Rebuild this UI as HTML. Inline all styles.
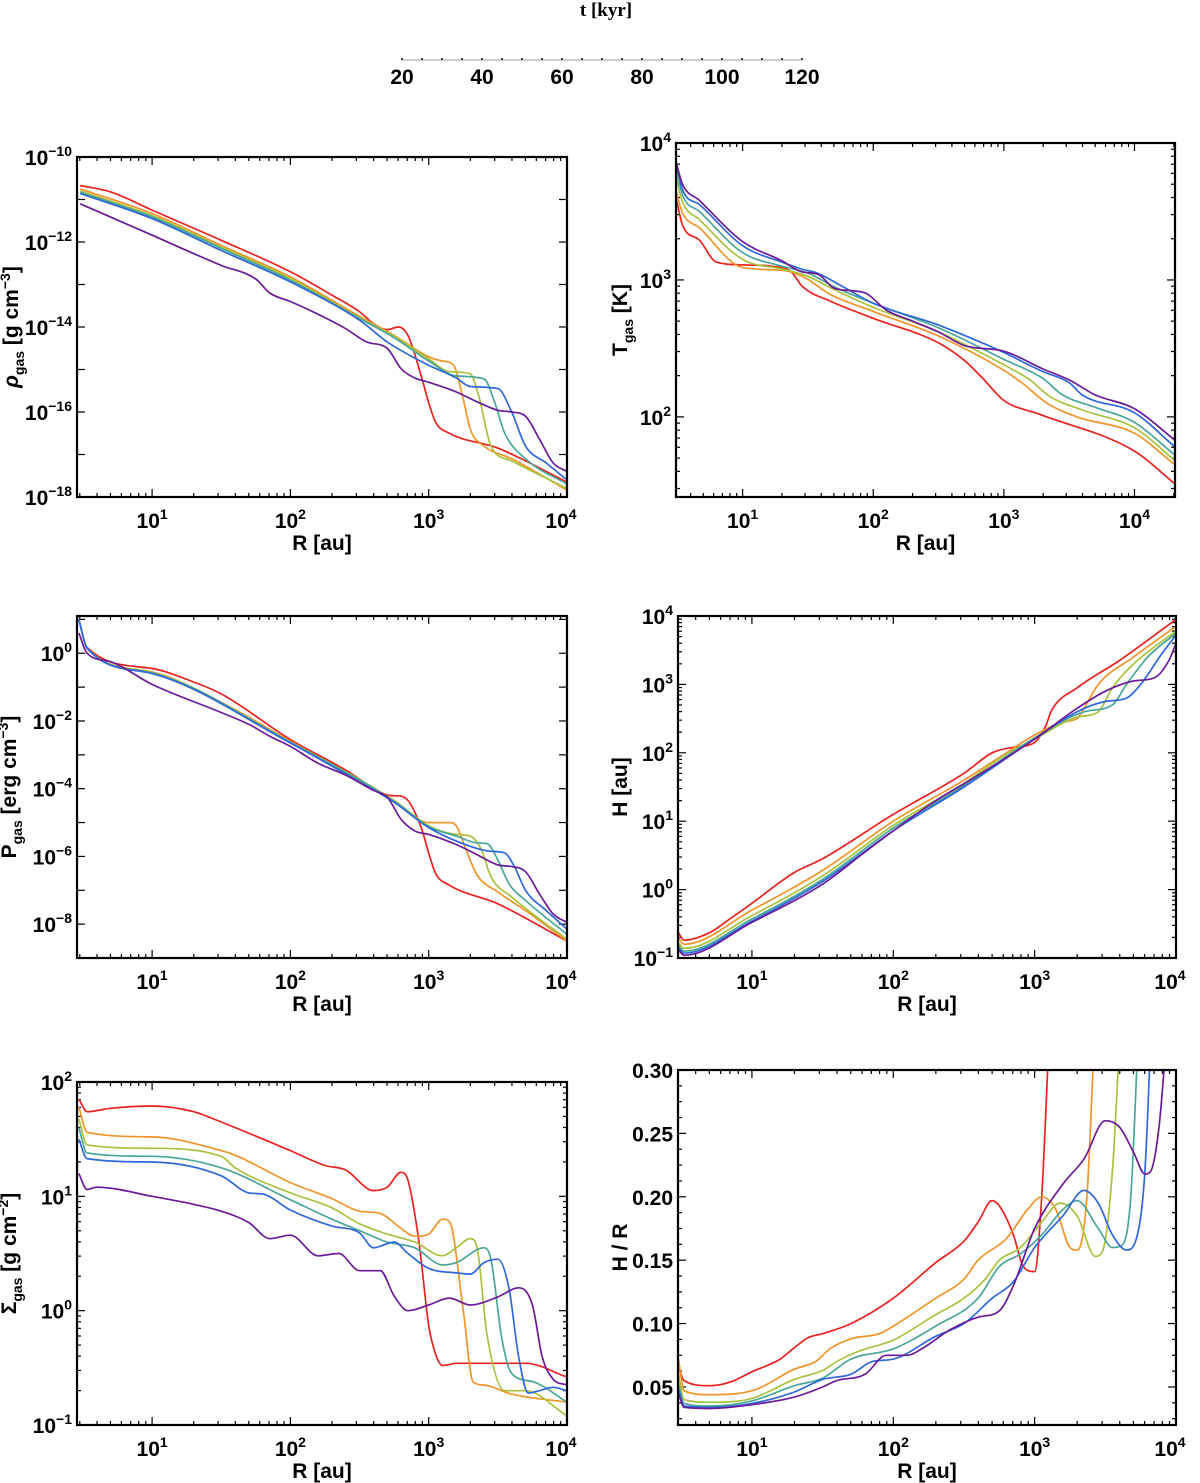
<!DOCTYPE html>
<html><head><meta charset="utf-8"><style>
body{margin:0;background:#fff}
svg{display:block}
text{font-family:"Liberation Sans",sans-serif;font-weight:bold;fill:#000}
</style></head><body>
<svg id="fig" width="1200" height="1483" viewBox="0 0 1200 1483" xmlns="http://www.w3.org/2000/svg">
<g id="cbar">
<text x="606" y="16" text-anchor="middle" style="font-family:'Liberation Serif',serif;font-size:19px">t [kyr]</text>
</g>
</svg>
<script>
const COLORS=['#e8221f','#f0952a','#a9c23d','#4ba69a','#2f68d9','#6c1b98'];
const TIMES=[20,40,60,80,100,120];
const CBAR_TICKS=[20,40,60,80,100,120];

const rho20=[[0.48,-10.67],[0.7,-10.82],[1.0,-11.25],[1.5,-11.96],[2.0,-12.7],[2.3,-13.25],[2.5,-13.64],[2.6,-13.92],[2.7,-14.06],[2.78,-14.0],[2.85,-14.2],[2.95,-15.2],[3.0,-15.78],[3.05,-16.24],[3.15,-16.5],[3.5,-16.85],[4.0,-17.65]];
const rho40=[[0.48,-10.75],[1.0,-11.33],[1.5,-12.08],[2.0,-12.82],[2.5,-13.75],[2.75,-14.2],[3.0,-14.7],[3.1,-14.8],[3.18,-14.9],[3.25,-15.7],[3.3,-16.4],[3.4,-16.8],[3.6,-17.1],[4.0,-17.84]];
const rho60=[[0.48,-10.8],[1.0,-11.38],[1.5,-12.12],[2.0,-12.86],[2.5,-13.78],[2.75,-14.22],[3.0,-14.75],[3.15,-15.05],[3.3,-15.1],[3.36,-15.6],[3.45,-16.8],[3.6,-17.15],[4.0,-17.8]];
const rho80=[[0.48,-10.83],[1.0,-11.41],[1.5,-12.15],[2.0,-12.9],[2.5,-13.8],[2.75,-14.25],[3.0,-14.8],[3.2,-15.15],[3.4,-15.22],[3.48,-15.8],[3.55,-16.5],[3.7,-17.1],[4.0,-17.7]];
const rho100=[[0.48,-10.86],[1.0,-11.45],[1.5,-12.2],[2.0,-12.94],[2.5,-13.84],[2.7,-14.35],[3.0,-14.9],[3.2,-15.2],[3.3,-15.4],[3.5,-15.45],[3.6,-16.0],[3.7,-16.8],[3.85,-17.2],[4.0,-17.6]];
const rho120=[[0.48,-11.1],[1.0,-11.84],[1.5,-12.55],[1.75,-12.87],[1.85,-13.2],[2.0,-13.4],[2.2,-13.7],[2.4,-14.04],[2.55,-14.35],[2.7,-14.5],[2.8,-14.98],[2.9,-15.2],[3.0,-15.3],[3.2,-15.53],[3.35,-15.76],[3.5,-15.96],[3.6,-16.0],[3.7,-16.1],[3.8,-16.63],[3.9,-17.2],[4.0,-17.4]];

const T20=[[0.49,3.6],[0.54,3.4],[0.67,3.29],[0.8,3.13],[1.0,3.11],[1.22,3.1],[1.37,3.06],[1.46,2.95],[1.66,2.85],[2.0,2.72],[2.5,2.54],[2.7,2.41],[2.83,2.29],[3.0,2.12],[3.27,2.02],[4.0,1.75],[4.31,1.51]];
const T40=[[0.49,3.65],[0.54,3.49],[0.67,3.38],[1.0,3.09],[1.31,3.07],[1.49,3.01],[1.66,2.9],[2.0,2.77],[2.5,2.59],[3.0,2.34],[3.15,2.24],[3.33,2.1],[3.56,2.0],[4.0,1.88],[4.31,1.65]];
const T60=[[0.49,3.75],[0.54,3.57],[0.67,3.44],[1.0,3.15],[1.3,3.08],[1.49,3.03],[1.7,2.93],[2.0,2.8],[2.5,2.62],[3.0,2.38],[3.2,2.27],[3.35,2.15],[3.6,2.05],[4.0,1.92],[4.31,1.68]];
const T80=[[0.49,3.82],[0.54,3.62],[0.67,3.5],[1.0,3.2],[1.3,3.1],[1.5,3.05],[1.7,2.95],[2.0,2.83],[2.5,2.65],[3.0,2.42],[3.3,2.28],[3.45,2.16],[3.7,2.07],[4.0,1.96],[4.31,1.72]];
const T100=[[0.49,3.87],[0.54,3.66],[0.67,3.55],[1.0,3.25],[1.3,3.13],[1.45,3.08],[1.57,3.05],[1.75,2.96],[2.0,2.83],[2.5,2.67],[3.0,2.47],[3.3,2.33],[3.5,2.25],[3.6,2.16],[4.0,2.03],[4.31,1.78]];
const T120=[[0.48,3.9],[0.54,3.7],[0.67,3.58],[1.0,3.28],[1.3,3.14],[1.45,3.06],[1.58,3.04],[1.7,2.94],[1.85,2.92],[1.95,2.9],[2.1,2.78],[2.3,2.7],[2.5,2.62],[2.7,2.52],[3.0,2.48],[3.3,2.35],[3.5,2.27],[3.7,2.16],[4.0,2.06],[4.31,1.83]];

const P20=[[0.47,1.0],[0.53,0.17],[1.0,-0.45],[1.3,-0.85],[1.5,-1.2],[2.0,-2.55],[2.4,-3.45],[2.65,-4.1],[2.72,-4.2],[2.8,-4.22],[2.86,-4.4],[2.95,-5.2],[3.0,-5.9],[3.05,-6.5],[3.15,-6.85],[3.5,-7.4],[4.0,-8.5]];
const P40=[[0.47,1.0],[0.53,0.15],[1.0,-0.55],[1.5,-1.45],[2.0,-2.6],[2.5,-3.75],[2.75,-4.35],[3.0,-5.0],[3.15,-5.0],[3.2,-5.1],[3.27,-5.8],[3.35,-6.55],[3.5,-7.05],[3.7,-7.6],[4.0,-8.5]];
const P60=[[0.47,1.0],[0.53,0.15],[1.0,-0.57],[2.0,-2.62],[2.75,-4.35],[3.0,-5.1],[3.2,-5.35],[3.3,-5.4],[3.38,-5.8],[3.45,-6.6],[3.6,-7.2],[4.0,-8.45]];
const P80=[[0.47,1.0],[0.53,0.15],[1.0,-0.58],[2.0,-2.63],[2.75,-4.37],[3.0,-5.12],[3.2,-5.4],[3.35,-5.6],[3.42,-5.62],[3.5,-6.1],[3.58,-6.8],[3.7,-7.3],[4.0,-8.3]];
const P100=[[0.47,1.0],[0.53,0.15],[1.0,-0.6],[2.0,-2.65],[2.5,-3.8],[2.75,-4.4],[3.0,-5.15],[3.3,-5.7],[3.45,-5.85],[3.55,-5.9],[3.62,-6.3],[3.7,-7.0],[3.85,-7.6],[4.0,-8.15]];
const P120=[[0.47,0.6],[0.53,0.0],[0.7,-0.25],[1.0,-0.92],[1.5,-1.75],[1.7,-2.1],[1.85,-2.45],[2.0,-2.75],[2.2,-3.25],[2.4,-3.6],[2.6,-4.05],[2.7,-4.25],[2.8,-4.9],[2.9,-5.25],[3.0,-5.35],[3.2,-5.65],[3.35,-5.95],[3.5,-6.25],[3.6,-6.3],[3.7,-6.45],[3.8,-7.1],[3.9,-7.7],[4.0,-7.95]];

const H20=[[0.48,-0.63],[0.52,-0.74],[0.7,-0.63],[0.85,-0.42],[1.0,-0.2],[1.3,0.25],[1.5,0.45],[2.0,1.1],[2.5,1.7],[2.7,2.0],[2.85,2.08],[3.0,2.15],[3.08,2.4],[3.12,2.62],[3.3,2.95],[3.6,3.35],[4.0,3.95]];
const H40=[[0.48,-0.7],[0.52,-0.8],[1.0,-0.3],[1.5,0.28],[2.0,1.0],[2.5,1.6],[2.8,2.0],[3.0,2.26],[3.2,2.45],[3.3,2.5],[3.35,2.65],[3.45,3.0],[3.7,3.4],[4.0,3.85]];
const H60=[[0.48,-0.78],[0.52,-0.86],[1.0,-0.38],[1.5,0.2],[2.0,0.94],[2.5,1.55],[2.8,1.98],[3.0,2.2],[3.3,2.52],[3.45,2.6],[3.55,2.95],[3.7,3.3],[4.0,3.78]];
const H80=[[0.48,-0.82],[0.52,-0.9],[1.0,-0.43],[1.5,0.15],[2.0,0.9],[2.5,1.52],[3.0,2.22],[3.35,2.6],[3.55,2.7],[3.65,3.0],[3.8,3.4],[4.0,3.75]];
const H100=[[0.48,-0.85],[0.52,-0.93],[1.0,-0.46],[1.5,0.12],[2.0,0.86],[2.5,1.5],[3.0,2.2],[3.3,2.6],[3.5,2.75],[3.65,2.8],[3.75,3.0],[3.9,3.45],[4.0,3.72]];
const H120=[[0.48,-0.88],[0.52,-0.96],[1.0,-0.48],[1.5,0.08],[1.8,0.55],[2.0,0.86],[2.3,1.3],[2.5,1.55],[2.7,1.8],[3.0,2.2],[3.3,2.65],[3.5,2.9],[3.7,3.05],[3.85,3.1],[3.95,3.35],[4.0,3.6]];

const S20=[[0.47,1.85],[0.53,1.74],[0.7,1.77],[1.0,1.79],[1.3,1.74],[1.5,1.65],[2.0,1.4],[2.25,1.27],[2.4,1.23],[2.6,1.05],[2.7,1.08],[2.8,1.21],[2.85,1.14],[2.93,0.6],[3.0,-0.13],[3.05,-0.38],[3.1,-0.48],[3.2,-0.46],[3.7,-0.46],[4.0,-0.58]];
const S40=[[0.47,1.78],[0.53,1.56],[1.0,1.52],[1.5,1.4],[1.6,1.36],[2.0,1.12],[2.3,0.98],[2.5,0.87],[2.65,0.85],[2.8,0.72],[2.9,0.65],[3.0,0.67],[3.1,0.8],[3.15,0.78],[3.25,0.0],[3.32,-0.62],[3.4,-0.65],[3.6,-0.73],[4.0,-0.8]];
const S60=[[0.47,1.68],[0.53,1.45],[1.0,1.42],[1.5,1.35],[1.6,1.25],[2.0,1.03],[2.3,0.9],[2.5,0.76],[2.7,0.67],[2.9,0.6],[3.1,0.48],[3.2,0.55],[3.3,0.63],[3.35,0.55],[3.42,-0.2],[3.55,-0.7],[3.7,-0.7],[4.0,-0.92]];
const S80=[[0.47,1.6],[0.53,1.38],[1.0,1.35],[1.5,1.25],[2.0,0.97],[2.3,0.8],[2.5,0.7],[2.7,0.6],[2.9,0.55],[3.1,0.4],[3.2,0.42],[3.4,0.55],[3.45,0.45],[3.53,-0.25],[3.6,-0.55],[3.75,-0.62],[4.0,-0.8]];
const S100=[[0.47,1.5],[0.53,1.33],[1.0,1.3],[1.5,1.18],[1.7,1.03],[1.8,1.02],[2.0,0.88],[2.3,0.74],[2.5,0.68],[2.6,0.55],[2.75,0.6],[2.85,0.5],[3.0,0.37],[3.2,0.33],[3.3,0.32],[3.4,0.42],[3.5,0.45],[3.58,0.2],[3.65,-0.4],[3.72,-0.72],[3.8,-0.7],[3.9,-0.67],[4.0,-0.7]];
const S120=[[0.47,1.2],[0.53,1.06],[0.6,1.08],[1.0,1.0],[1.3,0.93],[1.5,0.87],[1.7,0.77],[1.85,0.63],[2.0,0.66],[2.2,0.48],[2.35,0.5],[2.5,0.35],[2.65,0.35],[2.75,0.13],[2.85,0.0],[3.0,0.05],[3.15,0.11],[3.3,0.05],[3.5,0.12],[3.65,0.2],[3.75,0.05],[3.82,-0.4],[3.9,-0.6],[4.0,-0.65]];

const HR20=[[0.48,0.066],[0.52,0.055],[0.7,0.051],[0.85,0.054],[1.0,0.062],[1.2,0.072],[1.3,0.081],[1.4,0.089],[1.5,0.092],[1.7,0.1],[2.0,0.12],[2.3,0.148],[2.5,0.165],[2.6,0.18],[2.7,0.197],[2.75,0.193],[2.85,0.17],[2.92,0.145],[3.0,0.141],[3.05,0.2],[3.1,0.32]];
const HR40=[[0.48,0.072],[0.52,0.047],[0.7,0.044],[1.0,0.047],[1.3,0.064],[1.45,0.07],[1.55,0.08],[1.7,0.088],[1.9,0.092],[2.0,0.098],[2.3,0.12],[2.5,0.135],[2.6,0.15],[2.8,0.167],[2.95,0.19],[3.05,0.2],[3.15,0.19],[3.25,0.16],[3.3,0.158],[3.37,0.2],[3.42,0.32]];
const HR60=[[0.48,0.06],[0.52,0.04],[0.7,0.038],[1.0,0.041],[1.3,0.056],[1.5,0.063],[1.6,0.07],[1.75,0.078],[2.0,0.087],[2.3,0.107],[2.5,0.12],[2.65,0.135],[2.75,0.15],[2.9,0.16],[3.05,0.18],[3.18,0.195],[3.3,0.185],[3.43,0.153],[3.48,0.157],[3.55,0.22],[3.6,0.32]];
const HR80=[[0.48,0.052],[0.52,0.037],[0.7,0.035],[1.0,0.039],[1.3,0.051],[1.5,0.057],[1.7,0.072],[2.0,0.08],[2.3,0.098],[2.6,0.12],[2.75,0.145],[2.9,0.155],[3.05,0.17],[3.2,0.19],[3.3,0.197],[3.45,0.175],[3.55,0.16],[3.62,0.162],[3.68,0.2],[3.73,0.32]];
const HR100=[[0.48,0.048],[0.52,0.035],[0.7,0.034],[1.0,0.037],[1.3,0.046],[1.5,0.056],[1.7,0.06],[1.85,0.07],[2.0,0.072],[2.3,0.09],[2.5,0.1],[2.7,0.12],[2.85,0.133],[3.0,0.16],[3.2,0.185],[3.35,0.205],[3.45,0.195],[3.55,0.17],[3.65,0.158],[3.72,0.167],[3.78,0.22],[3.82,0.32]];
const HR120=[[0.48,0.045],[0.52,0.034],[0.7,0.033],[1.0,0.036],[1.3,0.042],[1.5,0.05],[1.6,0.055],[1.8,0.06],[1.95,0.075],[2.1,0.075],[2.2,0.08],[2.4,0.095],[2.6,0.105],[2.75,0.11],[2.85,0.13],[3.0,0.175],[3.2,0.21],[3.35,0.23],[3.5,0.26],[3.6,0.255],[3.7,0.235],[3.78,0.218],[3.82,0.22],[3.88,0.255],[3.93,0.32]];

const NS='http://www.w3.org/2000/svg';
const svg=document.getElementById('fig');
function mk(tag,attrs,parent){const e=document.createElementNS(NS,tag);for(const k in attrs)e.setAttribute(k,attrs[k]);(parent||svg).appendChild(e);return e;}

(function(){
  const g=document.getElementById('cbar');
  const x0=402,x1=802,y=60;
  const sx=v=>x0+(v-20)/100*(x1-x0);
  const ln=mk('line',{x1:x0,y1:y,x2:x1,y2:y,stroke:'#d0d0d0','stroke-width':2},g);
  
  for(let v=20;v<=120;v+=5){const d=mk('circle',{cx:sx(v),cy:y-1,r:1.1,fill:'#333'},g);}
  CBAR_TICKS.forEach(v=>{const t=mk('text',{x:sx(v),y:84,'text-anchor':'middle','font-size':21},g);t.textContent=v;});
})();

// monotone cubic (Fritsch-Carlson) sampled path
function monoPath(pts){
  const n=pts.length,xs=pts.map(p=>p[0]),ys=pts.map(p=>p[1]);
  const d=[],m=new Array(n);
  for(let i=0;i<n-1;i++)d.push((ys[i+1]-ys[i])/(xs[i+1]-xs[i]));
  m[0]=d[0];m[n-1]=d[n-2];
  for(let i=1;i<n-1;i++){m[i]=(d[i-1]*d[i]<=0)?0:(d[i-1]+d[i])/2;}
  for(let i=0;i<n-1;i++){
    if(d[i]===0){m[i]=0;m[i+1]=0;continue;}
    const a=m[i]/d[i],b=m[i+1]/d[i],s=a*a+b*b;
    if(s>9){const t=3/Math.sqrt(s);m[i]=t*a*d[i];m[i+1]=t*b*d[i];}
  }
  let out='M'+xs[0].toFixed(1)+','+ys[0].toFixed(1);
  for(let i=0;i<n-1;i++){
    const h=xs[i+1]-xs[i];
    out+='C'+(xs[i]+h/3).toFixed(1)+','+(ys[i]+m[i]*h/3).toFixed(1)+' '+(xs[i+1]-h/3).toFixed(1)+','+(ys[i+1]-m[i+1]*h/3).toFixed(1)+' '+xs[i+1].toFixed(1)+','+ys[i+1].toFixed(1);
  }
  return out;
}
function supLabel(g,x,y,exp,anchor,name){
  const t=mk('text',{x:x,y:y,'text-anchor':anchor,'font-size':21},g);
  
  const a=mk('tspan',{},t);a.textContent='10';
  const b=mk('tspan',{dy:-9,'font-size':14},t);b.textContent=(exp<0?'\u2212':'')+Math.abs(exp);
  return t;
}

let pid=0;
function panel(o){
  pid++;
  const g=mk('g',{});
  
  const {L,R,T,B}=o;
  const sx=v=>L+(v-o.xmin)/(o.xmax-o.xmin)*(R-L);
  const sy=v=>B-(v-o.ymin)/(o.ymax-o.ymin)*(B-T);
  const cp=mk('clipPath',{id:'cp'+pid},g);mk('rect',{x:L,y:T,width:R-L,height:B-T},cp);
  const tg=mk('g',{stroke:'#000','stroke-width':1.2},g);
  
  for(let d=0;d<=4;d++)for(let k=1;k<10;k++){
    const lv=d+Math.log10(k);if(lv<o.xmin||lv>o.xmax)continue;
    const X=sx(lv),len=k===1?8:4;
    mk('line',{x1:X,y1:B,x2:X,y2:B-len},tg);mk('line',{x1:X,y1:T,x2:X,y2:T+len},tg);
  }
  for(let d=1;d<=4;d++){if(d<o.xmin||d>o.xmax+0.001)continue;supLabel(g,sx(d)+(d===4&&o.xmax<4.05?-6:0),B+31,d,'middle','x-tick-label');}
  if(o.log){
    for(let d=Math.floor(o.ymin);d<=Math.ceil(o.ymax);d++)for(let k=1;k<10;k++){
      const lv=d+Math.log10(k);if(lv<o.ymin-0.001||lv>o.ymax+0.001)continue;
      if(k>1 && o.ystep>1)continue;
      const Y=sy(lv),len=k===1?8:4;
      mk('line',{x1:L,y1:Y,x2:L+len,y2:Y},tg);mk('line',{x1:R,y1:Y,x2:R-len,y2:Y},tg);
    }
    for(let d=Math.ceil(o.ymin);d<=Math.floor(o.ymax);d++){
      if(((d-o.ylab0)%o.ystep)!==0)continue;
      supLabel(g,L-5,sy(d)+8,d,'end','y-tick-label');
    }
  } else {
    for(let v=0.025;v<=0.3001;v+=0.0125){const Y=sy(v);const major=Math.abs((v/0.05)-Math.round(v/0.05))<0.01;const len=major?8:4;
      mk('line',{x1:L,y1:Y,x2:L+len,y2:Y},tg);mk('line',{x1:R,y1:Y,x2:R-len,y2:Y},tg);}
    o.yticks.forEach(v=>{const t=mk('text',{x:L-5,y:sy(v)+8,'text-anchor':'end','font-size':21},g);t.textContent=v.toFixed(2);});
  }
  const sg=mk('g',{'clip-path':'url(#cp'+pid+')'},g);
  o.series.forEach((s,i)=>{
    const pts=s.map(p=>[sx(p[0]),sy(p[1])]);
    const pth=mk('path',{d:monoPath(pts),fill:'none',stroke:COLORS[i],'stroke-width':1.7,'stroke-linejoin':'round'},sg);
    
    
  });
  const fr=mk('rect',{x:L,y:T,width:R-L,height:B-T,fill:'none',stroke:'#000','stroke-width':2.2},g);
  
  const xt=mk('text',{x:(L+R)/2,y:B+53,'text-anchor':'middle','font-size':21},g);xt.textContent='R [au]';
  
  const yt=mk('text',{transform:'translate('+o.yx+','+((T+B)/2)+') rotate(-90)','text-anchor':'middle','font-size':21},g);
  
  o.ytitle.forEach(p=>{const s=mk('tspan',p[1]?{dy:p[1],'font-size':p[2]}:{},yt);s.textContent=p[0];if(p[3])s.setAttribute('font-style','italic');});
}

panel({name:'density-panel',L:77,R:567,T:157,B:497,xmin:0.457,xmax:4,ymin:-18,ymax:-10,log:true,ystep:2,ylab0:-10,yx:18,
  series:[rho20,rho40,rho60,rho80,rho100,rho120],
  ytitle:[['\u03c1',0,0,true],['gas',6,14],[' [g cm',-6,21],['\u22123',-8,14],[']',8,21]]});
panel({name:'temperature-panel',L:676,R:1175,T:143,B:497,xmin:0.49,xmax:4.31,ymin:1.415,ymax:4,log:true,ystep:1,ylab0:0,yx:627,
  series:[T20,T40,T60,T80,T100,T120],
  ytitle:[['T',0,0],['gas',6,14],[' [K]',-6,21]]});
panel({name:'pressure-panel',L:77,R:567,T:616,B:958,xmin:0.457,xmax:4,ymin:-9,ymax:1.1,log:true,ystep:2,ylab0:0,yx:16,
  series:[P20,P40,P60,P80,P100,P120],
  ytitle:[['P',0,0],['gas',6,14],[' [erg cm',-6,21],['\u22123',-8,14],[']',8,21]]});
panel({name:'scale-height-panel',L:678,R:1176,T:616,B:958,xmin:0.477,xmax:4,ymin:-1,ymax:4,log:true,ystep:1,ylab0:0,yx:627,
  series:[H20,H40,H60,H80,H100,H120],
  ytitle:[['H [au]',0,0]]});
panel({name:'surface-density-panel',L:77,R:567,T:1082,B:1425,xmin:0.457,xmax:4,ymin:-1,ymax:2,log:true,ystep:1,ylab0:0,yx:16,
  series:[S20,S40,S60,S80,S100,S120],
  ytitle:[['\u03a3',0,0],['gas',6,14],[' [g cm',-6,21],['\u22122',-8,14],[']',8,21]]});
panel({name:'aspect-ratio-panel',L:678,R:1176,T:1070,B:1425,xmin:0.477,xmax:4,ymin:0.02,ymax:0.30,log:false,yticks:[0.05,0.10,0.15,0.20,0.25,0.30],yx:627,
  series:[HR20,HR40,HR60,HR80,HR100,HR120],
  ytitle:[['H / R',0,0]]});
</script>
</body></html>
